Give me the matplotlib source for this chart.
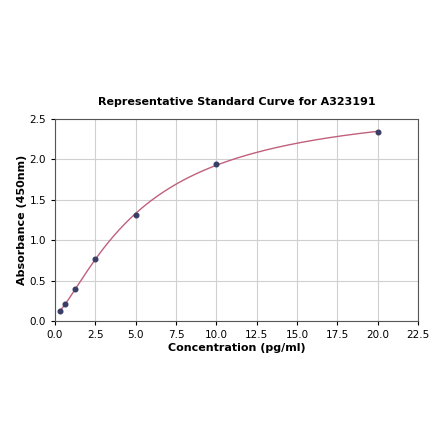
import matplotlib
matplotlib.use("Agg")
import matplotlib.pyplot as plt
import numpy as np

# standard points
conc = np.array([0.3125, 0.625, 1.25, 2.5, 5.0, 10.0, 20.0])
absorb = np.array([0.12, 0.21, 0.40, 0.77, 1.31, 1.95, 2.34])

x_ticks = [0.0, 2.5, 5.0, 7.5, 10.0, 12.5, 15.0, 17.5, 20.0, 22.5]
y_ticks = [0.0, 0.5, 1.0, 1.5, 2.0, 2.5]


def four_pl(x, p):
    a, b, c, d = p
    return d + (a - d) / (1.0 + (x / c) ** b)


def fit_4pl(x, y):
    # small Gauss-Newton / LM fit, numpy only
    p = np.array([0.0, 1.0, 5.0, 3.0])
    lam = 1e-3
    for _ in range(500):
        r = y - four_pl(x, p)
        J = np.zeros((len(x), 4))
        for k in range(4):
            dp = np.zeros(4)
            dp[k] = 1e-6 * max(1.0, abs(p[k]))
            J[:, k] = (four_pl(x, p + dp) - four_pl(x, p)) / dp[k]
        A = J.T @ J
        step = np.linalg.solve(A + lam * np.diag(np.diag(A)), J.T @ r)
        p_new = p + step
        if p_new[2] > 0 and np.sum((y - four_pl(x, p_new)) ** 2) < np.sum(r ** 2):
            p = p_new
            lam *= 0.5
        else:
            lam *= 5
    return p


params = fit_4pl(conc, absorb)
xs = np.linspace(conc.min(), conc.max(), 300)

fig = plt.figure(figsize=(4.40, 4.41), dpi=100)
ax = fig.add_axes([0.125, 0.272, 0.825, 0.458])

ax.plot(xs, four_pl(xs, params), color="#c0607c", lw=1.0, zorder=2)
ax.scatter(conc, absorb, s=11, color="#3a3d66", zorder=3)

ax.set_xlim(0, 22.5)
ax.set_ylim(0, 2.5)
ax.set_xticks(x_ticks)
ax.set_yticks(y_ticks)
ax.tick_params(labelsize=7.5, length=3)
ax.grid(True, color="#d0d0d0", lw=0.8)
ax.set_axisbelow(True)
for s in ax.spines.values():
    s.set_color("#555555")
    s.set_linewidth(0.8)

ax.set_title("Representative Standard Curve for A323191", fontsize=8, fontweight="bold", pad=10)
ax.set_xlabel("Concentration (pg/ml)", fontsize=8, fontweight="bold", labelpad=2)
ax.set_ylabel("Absorbance (450nm)", fontsize=8, fontweight="bold", labelpad=2)

fig.savefig("out.png", dpi=100)
